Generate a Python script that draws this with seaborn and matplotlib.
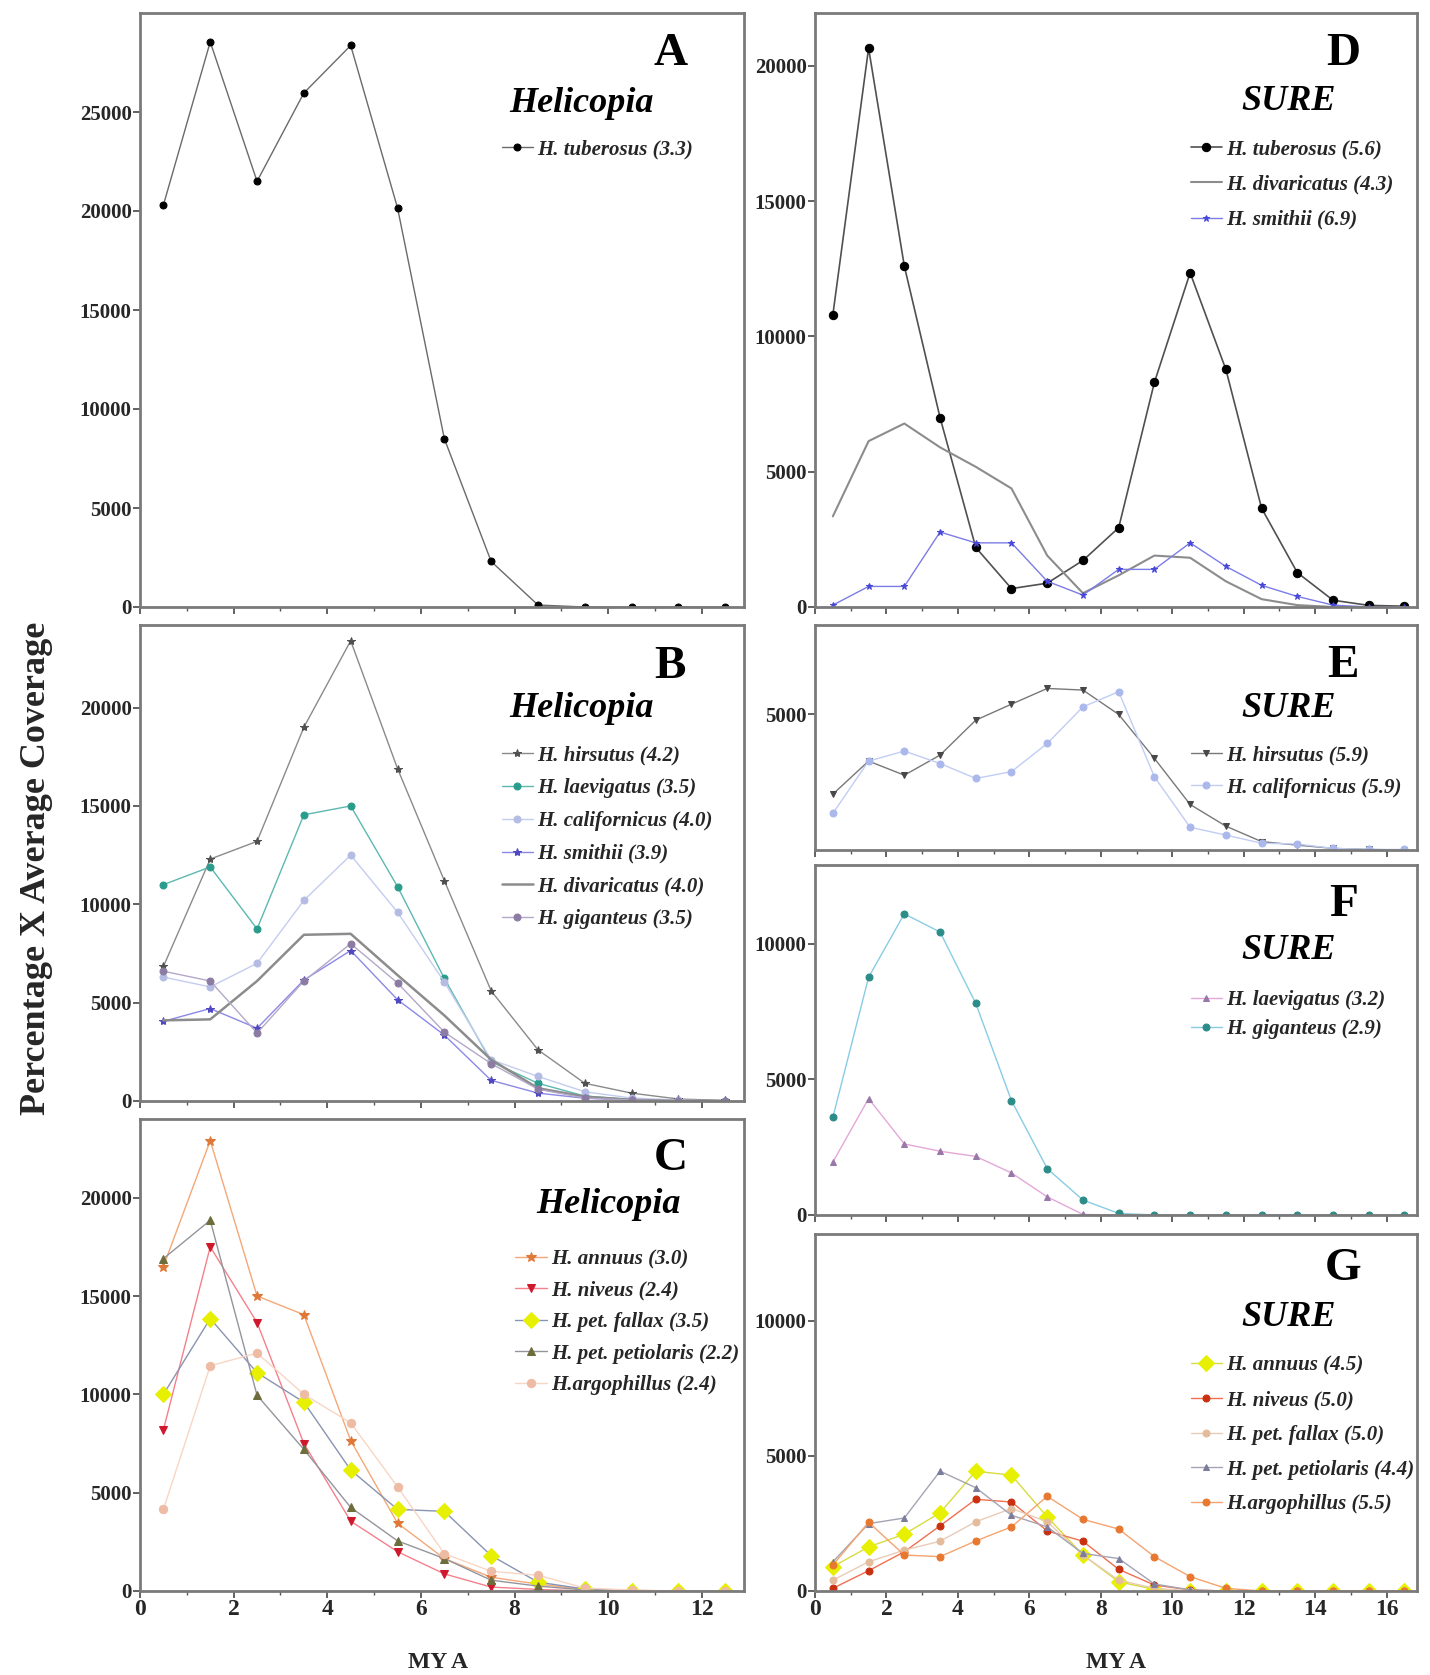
import numpy as np
import pandas as pd
import matplotlib
matplotlib.use("Agg")
import matplotlib.pyplot as plt
import seaborn as sns
from matplotlib.ticker import MultipleLocator, FixedLocator

sns.set_theme(style="white")
plt.rcParams['font.family'] = ['Liberation Serif', 'DejaVu Serif']

# ---------------- data ----------------
MYA_LEFT = [0.5, 1.5, 2.5, 3.5, 4.5, 5.5, 6.5, 7.5, 8.5, 9.5, 10.5, 11.5, 12.5]
MYA_RIGHT = [0.5, 1.5, 2.5, 3.5, 4.5, 5.5, 6.5, 7.5, 8.5, 9.5, 10.5, 11.5, 12.5,
             13.5, 14.5, 15.5, 16.5]

# Panel A (Helicopia)
A_tuberosus = [20300, 28540, 21500, 25960, 28360, 20160, 8500, 2300, 100, 0, 0, 0, 0]

# Panel B (Helicopia)
B_hirsutus = [6840, 12300, 13200, 19000, 23400, 16900, 11200, 5600, 2600, 900, 400, 100, 30]
B_laevigatus = [11000, 11900, 8750, 14550, 15000, 10900, 6230, 2000, 900, 250, 80, 20, 0]
B_californicus = [6300, 5800, 7000, 10200, 12500, 9600, 6050, 2100, 1250, 470, 150, 50, 0]
B_smithii = [4050, 4700, 3700, 6150, 7650, 5150, 3350, 1050, 400, 140, 50, 0, 0]
B_divaricatus = [4100, 4150, 6100, 8450, 8500, 6400, 4350, 2100, 650, 220, 60, 0, 0]
B_giganteus = [6600, 6100, 3450, 6100, 8000, 6000, 3500, 1900, 600, 150, 50, 0, 0]

# Panel C (Helicopia)
C_annuus = [16500, 22900, 15000, 14050, 7650, 3450, 1650, 700, 350, 80, 30, 0, 0]
C_niveus = [8200, 17500, 13650, 7500, 3550, 2000, 870, 200, 80, 0, 0, 0, 0]
C_fallax = [10000, 13850, 11100, 9600, 6150, 4150, 4050, 1800, 450, 100, 20, 0, 0]
C_petiolaris = [16900, 18850, 9950, 7200, 4250, 2550, 1650, 550, 250, 50, 0, 0, 0]
C_argophillus = [4150, 11450, 12100, 10000, 8550, 5300, 1900, 1000, 800, 150, 50, 0, 0]

# Panel D (SURE)
D_tuberosus = [10800, 20650, 12600, 7000, 2200, 680, 880, 1720, 2930, 8300, 12350,
               8780, 3650, 1270, 250, 60, 30]
D_divaricatus = [3350, 6130, 6780, 5900, 5180, 4380, 1900, 510, 1170, 1900, 1820,
                 950, 290, 70, 0, 0, 0]
D_smithii = [70, 760, 760, 2770, 2370, 2370, 950, 440, 1390, 1390, 2370, 1500, 800,
             390, 70, 0, 0]

# Panel E (SURE)
E_hirsutus = [2060, 3280, 2760, 3500, 4790, 5380, 5960, 5900, 5000, 3380, 1680, 880,
              310, 180, 60, 20, 0]
E_californicus = [1350, 3280, 3650, 3190, 2640, 2890, 3930, 5280, 5840, 2700, 840,
                  550, 250, 220, 60, 20, 20]

# Panel F (SURE)
F_laevigatus = [1950, 4290, 2620, 2350, 2160, 1550, 670, 20, 0, 0, 0, 0, 0, 0, 0, 0, 0]
F_giganteus = [3600, 8760, 11100, 10430, 7800, 4210, 1710, 550, 60, 0, 0, 0, 0, 0, 0, 0, 0]

# Panel G (SURE)
G_annuus = [900, 1630, 2100, 2890, 4430, 4280, 2740, 1330, 340, 60, 0, 0, 0, 0, 0, 0, 0]
G_niveus = [100, 750, 1450, 2410, 3390, 3290, 2220, 1840, 800, 220, 40, 0, 0, 0, 0, 0, 0]
G_fallax = [400, 1080, 1510, 1840, 2560, 3050, 2560, 1330, 400, 100, 0, 0, 0, 0, 0, 0, 0]
G_petiolaris = [1080, 2490, 2700, 4430, 3820, 2800, 2370, 1390, 1200, 260, 40, 0, 0, 0, 0, 0, 0]
G_argophillus = [960, 2540, 1330, 1270, 1850, 2370, 3500, 2650, 2290, 1270, 530, 100,
                 0, 0, 0, 0, 0]

# ---------------- layout ----------------
W, H = 1430, 1675
fig = plt.figure(figsize=(W / 100, H / 100), dpi=100)


def add_ax(left, right, top, bottom):
    return fig.add_axes([left / W, 1 - bottom / H, (right - left) / W, (bottom - top) / H])


LX0, LX1 = 140, 744
RX0, RX1 = 815, 1417
axA = add_ax(LX0, LX1, 13, 607)
axB = add_ax(LX0, LX1, 625, 1101)
axC = add_ax(LX0, LX1, 1119, 1591)
axD = add_ax(RX0, RX1, 13, 607)
axE = add_ax(RX0, RX1, 625, 850)
axF = add_ax(RX0, RX1, 865, 1215)
axG = add_ax(RX0, RX1, 1234, 1591)

TICKFONT = dict(family='Liberation Serif', weight='bold', size=15)
LEGPROP = dict(family='Liberation Serif', weight='bold', style='italic', size=15)


def draw(ax, x, y, label, lc, mc=None, marker=None, ms=5, lw=1.0):
    kw = dict(x=x, y=y, ax=ax, color=lc, linewidth=lw, label=label)
    if marker is not None:
        kw.update(marker=marker, markersize=ms, markerfacecolor=mc,
                  markeredgecolor=mc)
    sns.lineplot(**kw)


def style(ax, xmax, ymax, yticks, xlabels, xmajor_max):
    ax.set_xlim(0, xmax)
    ax.set_ylim(0, ymax)
    ax.set_facecolor('white')
    for s in ax.spines.values():
        s.set_color('#7a7a7a')
        s.set_linewidth(2)
    ax.xaxis.set_major_locator(FixedLocator(list(range(0, xmajor_max + 1, 2))))
    ax.xaxis.set_minor_locator(FixedLocator(list(range(1, xmajor_max + 2, 2))))
    ax.yaxis.set_major_locator(FixedLocator(yticks))
    ax.tick_params(axis='both', which='major', direction='out', length=5, width=1.3,
                   color='#555555', bottom=True, left=True, pad=1)
    ax.tick_params(axis='x', which='minor', direction='out', length=3, width=1.0,
                   color='#555555', bottom=True)
    ax.set_yticklabels([str(v) for v in yticks], fontdict=TICKFONT)
    if xlabels:
        ax.set_xticklabels([str(v) for v in range(0, xmajor_max + 1, 2)],
                           fontdict=dict(family='Liberation Serif', weight='bold', size=17))
    else:
        ax.set_xticklabels([])
    ax.set_xlabel('')
    ax.set_ylabel('')


def annotate(ax, letter, title, title_dx, title_dy, leg_dx, leg_dy, axw, axh,
             letter_dy=38, spacing=0.55):
    s = 1.068
    ax.text(1 - 69 * s / axw, 1 - letter_dy * s / axh, letter, transform=ax.transAxes,
            ha='center', va='center', fontsize=34, fontweight='bold',
            family='Liberation Serif', color='black')
    ax.text(1 - title_dx * s / axw, 1 - title_dy * s / axh, title, transform=ax.transAxes,
            ha='center', va='center', fontsize=26, fontweight='bold', style='italic',
            family='Liberation Serif', color='black')
    leg = ax.legend(loc='upper left',
                    bbox_to_anchor=(1 - leg_dx * s / axw, 1 - leg_dy * s / axh),
                    frameon=False, prop=LEGPROP, handlelength=1.5, handletextpad=0.22,
                    labelspacing=spacing, borderpad=0, borderaxespad=0)
    return leg


# ---------------- panel A ----------------
draw(axA, MYA_LEFT, A_tuberosus, 'H. tuberosus (3.3)', '#6a6a6a', 'black', 'o', 5, 1.0)
style(axA, 12.9, 30000, [0, 5000, 10000, 15000, 20000, 25000], False, 12)
annotate(axA, 'A', 'Helicopia', 152, 85, 227, 118, LX1 - LX0, 607 - 13)

# ---------------- panel B ----------------
draw(axB, MYA_LEFT, B_hirsutus, 'H. hirsutus (4.2)', '#8a8a8a', '#505050', '*', 6)
draw(axB, MYA_LEFT, B_laevigatus, 'H. laevigatus (3.5)', '#5cb8b0', '#2a9c8c', 'o', 5)
draw(axB, MYA_LEFT, B_californicus, 'H. californicus (4.0)', '#c4cdf0', '#b4bce4', 'o', 5)
draw(axB, MYA_LEFT, B_smithii, 'H. smithii (3.9)', '#8c88e6', '#5048c0', '*', 6)
draw(axB, MYA_LEFT, B_divaricatus, 'H. divaricatus (4.0)', '#8c8c8c', None, None, 0, 1.8)
draw(axB, MYA_LEFT, B_giganteus, 'H. giganteus (3.5)', '#b4a8c8', '#8c7ca4', 'o', 5)
style(axB, 12.9, 24200, [0, 5000, 10000, 15000, 20000], False, 12)
annotate(axB, 'B', 'Helicopia', 152, 78, 227, 113, LX1 - LX0, 1101 - 625, letter_dy=39,
         spacing=0.61)

# ---------------- panel C ----------------
draw(axC, MYA_LEFT, C_annuus, 'H. annuus (3.0)', '#f4a878', '#e07838', '*', 7)
draw(axC, MYA_LEFT, C_niveus, 'H. niveus (2.4)', '#f4808c', '#d0182c', 'v', 6)
draw(axC, MYA_LEFT, C_fallax, 'H. pet. fallax (3.5)', '#8894b0', '#e6f000', 'D', 8)
draw(axC, MYA_LEFT, C_petiolaris, 'H. pet. petiolaris (2.2)', '#94949c', '#6c6c3c', '^', 6)
draw(axC, MYA_LEFT, C_argophillus, 'H.argophillus (2.4)', '#f8d6c4', '#eebca4', 'o', 6)
style(axC, 12.9, 24000, [0, 5000, 10000, 15000, 20000], True, 12)
annotate(axC, 'C', 'Helicopia', 127, 80, 214, 122, LX1 - LX0, 1591 - 1119, letter_dy=37,
         spacing=0.55)

# ---------------- panel D ----------------
draw(axD, MYA_RIGHT, D_tuberosus, 'H. tuberosus (5.6)', '#505050', 'black', 'o', 6, 1.2)
draw(axD, MYA_RIGHT, D_divaricatus, 'H. divaricatus (4.3)', '#8c8c8c', None, None, 0, 1.5)
draw(axD, MYA_RIGHT, D_smithii, 'H. smithii (6.9)', '#7c7ce6', '#4848d8', '*', 5)
style(axD, 16.85, 21950, [0, 5000, 10000, 15000, 20000], False, 16)
annotate(axD, 'D', 'SURE', 120, 83, 212, 118, RX1 - RX0, 607 - 13, spacing=0.74)

# ---------------- panel E ----------------
draw(axE, MYA_RIGHT, E_hirsutus, 'H. hirsutus (5.9)', '#787878', '#484848', 'v', 5)
draw(axE, MYA_RIGHT, E_californicus, 'H. californicus (5.9)', '#c0cef4', '#aab8ec', 'o', 5)
style(axE, 16.85, 8300, [5000], False, 16)
annotate(axE, 'E', 'SURE', 120, 78, 212, 113, RX1 - RX0, 850 - 625, spacing=0.58)

# ---------------- panel F ----------------
draw(axF, MYA_RIGHT, F_laevigatus, 'H. laevigatus (3.2)', '#e4a8d8', '#9878a8', '^', 5)
draw(axF, MYA_RIGHT, F_giganteus, 'H. giganteus (2.9)', '#88cce4', '#2c8c88', 'o', 5)
style(axF, 16.85, 12900, [0, 5000, 10000], False, 16)
annotate(axF, 'F', 'SURE', 120, 80, 212, 117, RX1 - RX0, 1215 - 865, letter_dy=37,
         spacing=0.43)

# ---------------- panel G ----------------
draw(axG, MYA_RIGHT, G_annuus, 'H. annuus (4.5)', '#d8dc40', '#e6f000', 'D', 8)
draw(axG, MYA_RIGHT, G_niveus, 'H. niveus (5.0)', '#f07050', '#c83010', 'o', 5)
draw(axG, MYA_RIGHT, G_fallax, 'H. pet. fallax (5.0)', '#e8ccb8', '#e4bc9c', 'o', 5)
draw(axG, MYA_RIGHT, G_petiolaris, 'H. pet. petiolaris (4.4)', '#a4a4b4', '#7c7c9c', '^', 5)
draw(axG, MYA_RIGHT, G_argophillus, 'H.argophillus (5.5)', '#f4a470', '#e87830', 'o', 5)
style(axG, 16.85, 13200, [0, 5000, 10000], True, 16)
annotate(axG, 'G', 'SURE', 120, 78, 212, 114, RX1 - RX0, 1591 - 1234, letter_dy=33,
         spacing=0.7)

# ---------------- shared labels ----------------
fig.text(37 / W, 1 - 868 / H, 'Percentage X Average Coverage', rotation=90,
         ha='center', va='center', fontsize=26, fontweight='bold',
         family='Liberation Serif')
fig.text(438 / W, 1 - 1662 / H, 'MY A', ha='center', va='center', fontsize=17,
         fontweight='bold', family='Liberation Serif')
fig.text(1116 / W, 1 - 1662 / H, 'MY A', ha='center', va='center', fontsize=17,
         fontweight='bold', family='Liberation Serif')

fig.savefig('out.png', dpi=100, facecolor='white')
